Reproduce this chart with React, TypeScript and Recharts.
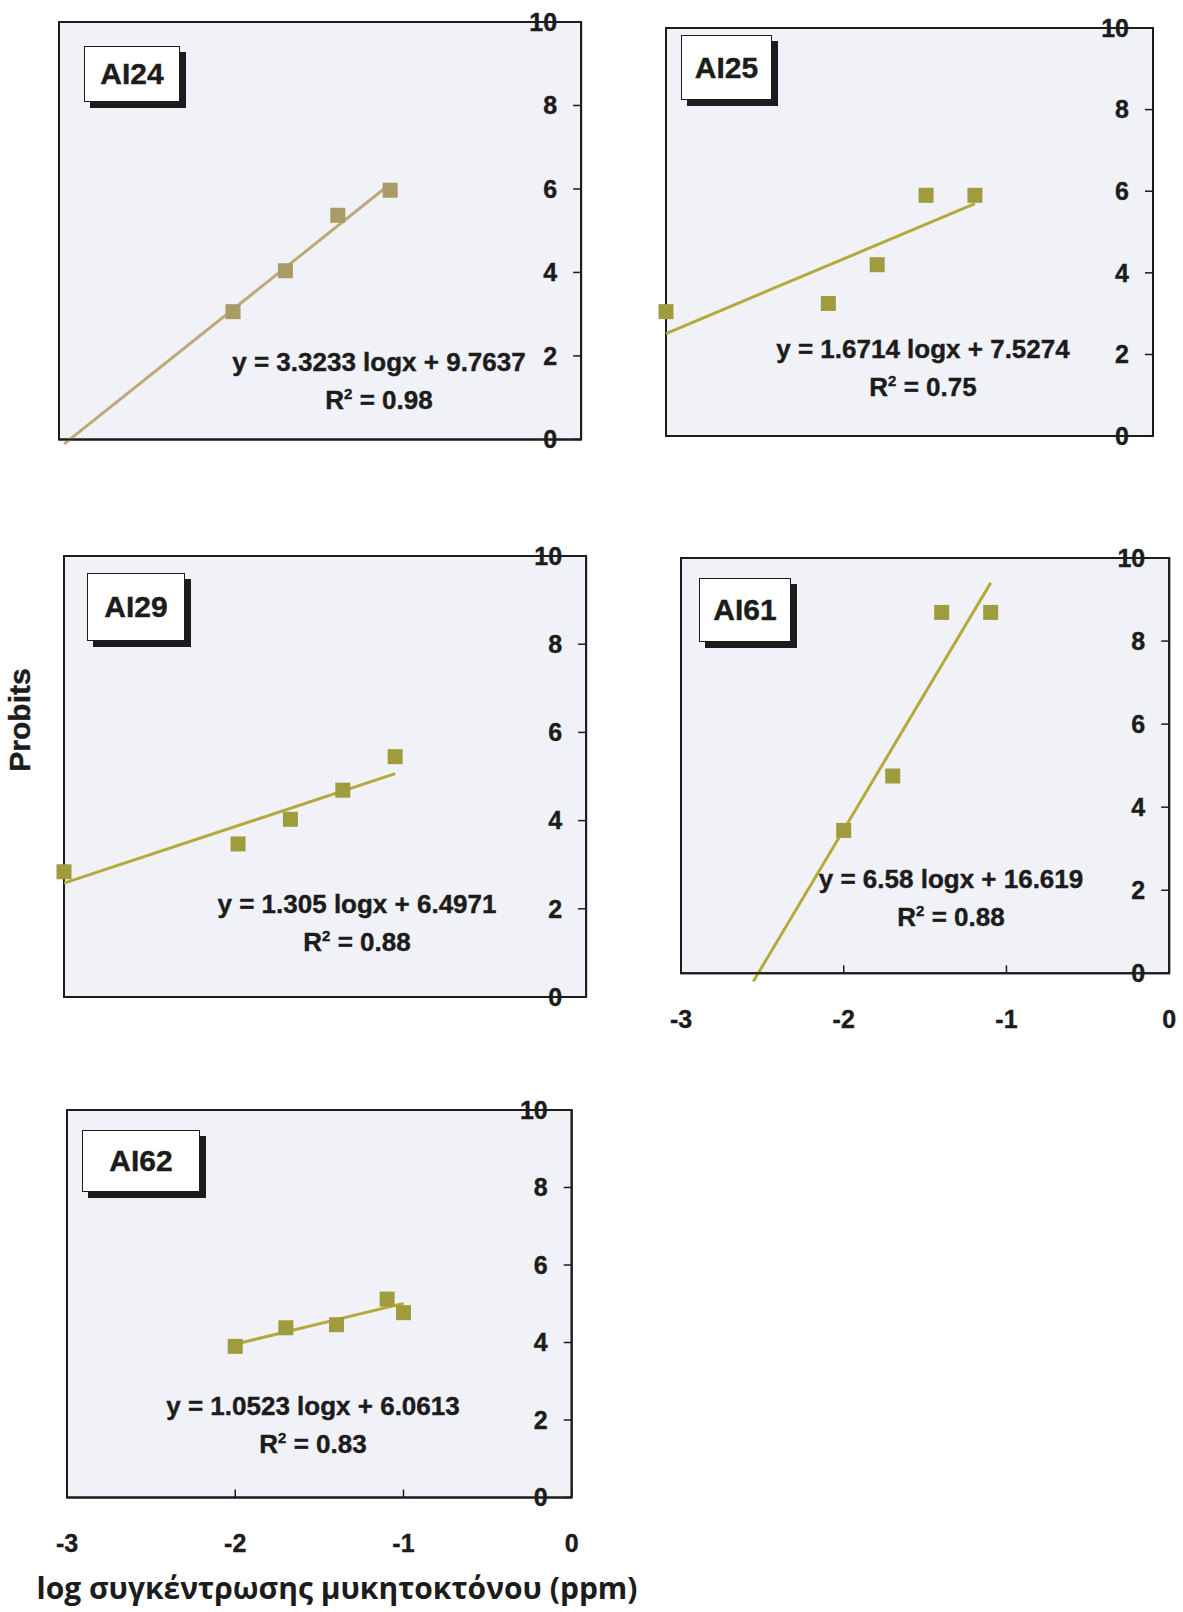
import React from "react";
import {
    ScatterChart,
    Scatter,
    XAxis,
    YAxis,
    ReferenceArea,
    ReferenceLine
} from "recharts";

// shared axes
const xTicks = [-3, -2, -1, 0];
const yTicks = [0, 2, 4, 6, 8, 10];

// AI24
const ai24X = [-2.0, -1.699, -1.398, -1.097];
const ai24Y = [3.06, 4.04, 5.37, 5.97];
const ai24Fit = [3.3233, 9.7637];
const ai24FitRange = [-2.97, -1.097];
const ai24R2 = 0.98;

// AI25
const ai25X = [-3.0, -2.0, -1.699, -1.398, -1.097];
const ai25Y = [3.05, 3.25, 4.2, 5.9, 5.9];
const ai25Fit = [1.6714, 7.5274];
const ai25FitRange = [-3.0, -1.097];
const ai25R2 = 0.75;

// AI29
const ai29X = [-3.0, -2.0, -1.699, -1.398, -1.097];
const ai29Y = [2.84, 3.47, 4.03, 4.69, 5.45];
const ai29Fit = [1.305, 6.4971];
const ai29FitRange = [-3.0, -1.097];
const ai29R2 = 0.88;

// AI61
const ai61X = [-2.0, -1.699, -1.398, -1.097];
const ai61Y = [3.44, 4.75, 8.69, 8.69];
const ai61Fit = [6.58, 16.619];
const ai61FitRange = [-2.556, -1.097];
const ai61R2 = 0.88;

// AI62
const ai62X = [-2.0, -1.699, -1.398, -1.097, -1.0];
const ai62Y = [3.9, 4.38, 4.46, 5.12, 4.77];
const ai62Fit = [1.0523, 6.0613];
const ai62FitRange = [-2.0, -1.0];
const ai62R2 = 0.83;

const FONT = "'Liberation Sans', Arial, sans-serif";
const INK = "#1c1c1c";
const PLOT_BG = "#f0f2f7";

const PAD_L = 20;
const PAD_R = 30;
const PAD_T = 20;
const PAD_B = 70;

const tickStyle = {
    fill: INK,
    fontSize: 25,
    fontWeight: 700,
    fontFamily: FONT,
    stroke: INK,
    strokeWidth: 0.4
};

type PanelProps = {
    name: string;
    frame: number[]; // left, top, right, bottom of the plot box
    xs: number[];
    ys: number[];
    fit: number[];
    fitRange: number[];
    r2: number;
    lineColor: string;
    markerColor: string;
    showXLabels: boolean;
    box: number[]; // left, top, width, height of the name tag
    eq: number[]; // centre of the equation text
};

function Panel(p: PanelProps) {
    const [left, top, right, bottom] = p.frame;
    const width = right - left + PAD_L + PAD_R;
    const height = bottom - top + PAD_T + PAD_B;

    const points = p.xs.map((x, i) => ({ x, y: p.ys[i] }));
    const [slope, intercept] = p.fit;
    const fitAt = (x: number) => slope * x + intercept;

    const square = (props: any) => (
        <rect
            x={props.cx - 7.5}
            y={props.cy - 7.5}
            width={15}
            height={15}
            fill={p.markerColor}
        />
    );

    return (
        <>
            <div style={{ position: "absolute", left: left - PAD_L, top: top - PAD_T }}>
                <ScatterChart
                    width={width}
                    height={height}
                    margin={{ top: PAD_T, right: PAD_R, bottom: 0, left: PAD_L }}
                >
                    <ReferenceArea
                        x1={-3}
                        x2={0}
                        y1={0}
                        y2={10}
                        fill={PLOT_BG}
                        fillOpacity={1}
                        stroke={INK}
                        strokeWidth={2}
                    />

                    <XAxis
                        type="number"
                        dataKey="x"
                        domain={[-3, 0]}
                        ticks={xTicks}
                        interval={0}
                        height={PAD_B}
                        tickSize={-8}
                        tickMargin={45}
                        axisLine={{ stroke: INK, strokeWidth: 2 }}
                        tickLine={{ stroke: INK, strokeWidth: 1.5 }}
                        tick={p.showXLabels ? tickStyle : false}
                    />

                    <YAxis
                        type="number"
                        dataKey="y"
                        orientation="right"
                        mirror
                        width={60}
                        domain={[0, 10]}
                        ticks={yTicks}
                        interval={0}
                        tickSize={8}
                        tickMargin={16}
                        axisLine={{ stroke: INK, strokeWidth: 2 }}
                        tickLine={{ stroke: INK, strokeWidth: 1.5 }}
                        tick={tickStyle}
                    />

                    {/* fitted trend line */}
                    <ReferenceLine
                        segment={[
                            { x: p.fitRange[0], y: fitAt(p.fitRange[0]) },
                            { x: p.fitRange[1], y: fitAt(p.fitRange[1]) }
                        ]}
                        ifOverflow="visible"
                        stroke={p.lineColor}
                        strokeWidth={3}
                    />

                    <Scatter
                        data={points}
                        shape={square}
                        isAnimationActive={false}
                    />
                </ScatterChart>
            </div>

            {/* name tag */}
            <div
                style={{
                    position: "absolute",
                    left: p.box[0],
                    top: p.box[1],
                    width: p.box[2],
                    height: p.box[3],
                    boxSizing: "border-box",
                    background: "#fff",
                    border: `1.5px solid ${INK}`,
                    boxShadow: `6px 6px 0 ${INK}`,
                    display: "flex",
                    alignItems: "center",
                    justifyContent: "center",
                    fontFamily: FONT,
                    fontWeight: 700,
                    fontSize: 30,
                    WebkitTextStroke: "0.4px " + INK,
                    color: INK
                }}
            >
                {p.name}
            </div>

            {/* equation + R² */}
            <div
                style={{
                    position: "absolute",
                    left: p.eq[0] - 250,
                    top: p.eq[1] - 19,
                    width: 500,
                    textAlign: "center",
                    fontFamily: FONT,
                    fontWeight: 700,
                    fontSize: 26,
                    lineHeight: "38px",
                    WebkitTextStroke: "0.4px " + INK,
                    color: INK
                }}
            >
                <div>{`y = ${slope} logx + ${intercept}`}</div>
                <div>
                    R
                    <span style={{ fontSize: 15, position: "relative", top: -10, lineHeight: 0 }}>2</span>
                    {` = ${p.r2}`}
                </div>
            </div>
        </>
    );
}

export default function App() {
    return (
        <div
            style={{
                position: "absolute",
                left: 0,
                top: 0,
                width: 1183,
                height: 1612,
                overflow: "hidden",
                background: "#fff"
            }}
        >
            <Panel
                name="AI24"
                frame={[58.6, 21.5, 580.7, 438.9]}
                xs={ai24X}
                ys={ai24Y}
                fit={ai24Fit}
                fitRange={ai24FitRange}
                r2={ai24R2}
                lineColor="#bfa97a"
                markerColor="#a99a66"
                showXLabels={false}
                box={[84, 46, 96, 56]}
                eq={[379, 362]}
            />
            <Panel
                name="AI25"
                frame={[666, 27.7, 1153, 435.8]}
                xs={ai25X}
                ys={ai25Y}
                fit={ai25Fit}
                fitRange={ai25FitRange}
                r2={ai25R2}
                lineColor="#b4aa3c"
                markerColor="#a09c3e"
                showXLabels={false}
                box={[681, 35, 91, 65]}
                eq={[923, 349]}
            />
            <Panel
                name="AI29"
                frame={[63.7, 556, 585.8, 997]}
                xs={ai29X}
                ys={ai29Y}
                fit={ai29Fit}
                fitRange={ai29FitRange}
                r2={ai29R2}
                lineColor="#b4aa3c"
                markerColor="#a09c3e"
                showXLabels={false}
                box={[87, 573, 98, 68]}
                eq={[357, 904]}
            />
            <Panel
                name="AI61"
                frame={[681.4, 558, 1169.6, 973.3]}
                xs={ai61X}
                ys={ai61Y}
                fit={ai61Fit}
                fitRange={ai61FitRange}
                r2={ai61R2}
                lineColor="#b4aa3c"
                markerColor="#a09c3e"
                showXLabels={true}
                box={[699, 578, 92, 64]}
                eq={[951, 879]}
            />
            <Panel
                name="AI62"
                frame={[66.8, 1110, 571.5, 1497.5]}
                xs={ai62X}
                ys={ai62Y}
                fit={ai62Fit}
                fitRange={ai62FitRange}
                r2={ai62R2}
                lineColor="#b4aa3c"
                markerColor="#a09c3e"
                showXLabels={true}
                box={[82, 1130, 118, 62]}
                eq={[313, 1406]}
            />

            {/* axis titles */}
            <div
                style={{
                    position: "absolute",
                    left: 20 - 80,
                    top: 720 - 18,
                    width: 160,
                    height: 36,
                    lineHeight: "36px",
                    textAlign: "center",
                    transform: "rotate(-90deg)",
                    fontFamily: FONT,
                    fontWeight: 700,
                    fontSize: 30,
                    WebkitTextStroke: "0.4px " + INK,
                    color: INK
                }}
            >
                Probits
            </div>
            <div
                style={{
                    position: "absolute",
                    left: 337 - 400,
                    top: 1588 - 19,
                    width: 800,
                    height: 38,
                    lineHeight: "38px",
                    textAlign: "center",
                    fontFamily: "'Open Sans', 'Noto Sans', sans-serif",
                    fontWeight: 700,
                    fontSize: 30,
                    color: INK
                }}
            >
                log συγκέντρωσης μυκητοκτόνου (ppm)
            </div>
        </div>
    );
}
